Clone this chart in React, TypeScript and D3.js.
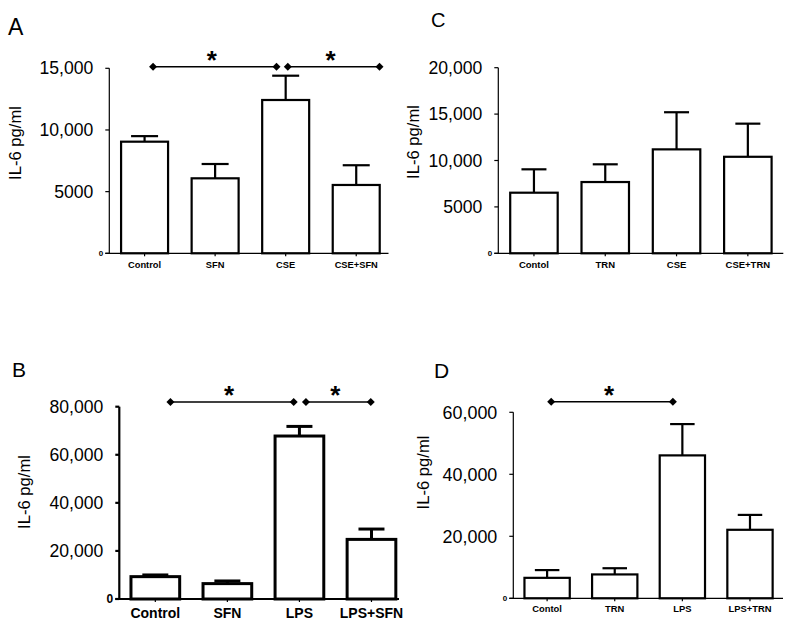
import React from 'react';
import * as d3 from 'd3';

// ---------- Data ----------
const catsA = ['Control', 'SFN', 'CSE', 'CSE+SFN'];
const meanA = [9050, 6080, 12430, 5540];
const errA = [9500, 7240, 14400, 7140];
const ticksA = [0, 5000, 10000, 15000];
const tickLabelsA = ['0', '5000', '10,000', '15,000'];

const catsB = ['Control', 'SFN', 'LPS', 'LPS+SFN'];
const meanB = [9300, 6400, 67800, 24800];
const errB = [10000, 7500, 71800, 29100];
const ticksB = [0, 20000, 40000, 60000, 80000];
const tickLabelsB = ['0', '20,000', '40,000', '60,000', '80,000'];

const catsC = ['Contol', 'TRN', 'CSE', 'CSE+TRN'];
const meanC = [6530, 7680, 11200, 10400];
const errC = [9050, 9590, 15200, 13970];
const ticksC = [0, 5000, 10000, 15000, 20000];
const tickLabelsC = ['0', '5000', '10,000', '15,000', '20,000'];

const catsD = ['Contol', 'TRN', 'LPS', 'LPS+TRN'];
const meanD = [6600, 7700, 46100, 22100];
const errD = [9100, 9700, 56200, 26900];
const ticksD = [0, 20000, 40000, 60000];
const tickLabelsD = ['0', '20,000', '40,000', '60,000'];

// significance brackets: category + offset in band steps
const sigA = [
  { from: 'Control', fromOff: 0.12, to: 'CSE', toOff: -0.13 },
  { from: 'CSE', fromOff: 0.03, to: 'CSE+SFN', toOff: 0.33 },
];
const sigB = [
  { from: 'Control', fromOff: 0.21, to: 'LPS', toOff: -0.08 },
  { from: 'LPS', fromOff: 0.09, to: 'LPS+SFN', toOff: -0.01 },
];
const sigC: any[] = [];
const sigD = [{ from: 'Contol', fromOff: 0.06, to: 'LPS', toOff: -0.14 }];

const FONT = 'Liberation Sans, Arial, Helvetica, sans-serif';

type Cfg = {
  letter: string;
  letterX: number;
  letterY: number;
  letterSize: number;
  cats: string[];
  mean: number[];
  err: number[];
  ticks: number[];
  tickLabels: string[];
  sig: any[];
  max: number;
  x0: number;
  x1: number;
  baseEnd: number;
  y0: number;
  y1: number;
  pad: number;
  barW: number;
  axisW: number;
  capW: number;
  tickFont: number;
  zeroFont: number;
  catFont: number;
  catY: number;
  ylabX: number;
  ylabY: number;
  sigY: number;
};

const cfgA: Cfg = {
  letter: 'A', letterX: 8, letterY: 35, letterSize: 23,
  cats: catsA, mean: meanA, err: errA, ticks: ticksA, tickLabels: tickLabelsA, sig: sigA,
  max: 15000, x0: 109.3, x1: 391.5, baseEnd: 388.5, y0: 253.3, y1: 68.3,
  pad: 0.334, barW: 2.2, axisW: 1.2, capW: 27,
  tickFont: 17.6, zeroFont: 8, catFont: 9.3, catY: 267.5,
  ylabX: 20.5, ylabY: 143, sigY: 66.7,
};
const cfgB: Cfg = {
  letter: 'B', letterX: 12, letterY: 377, letterSize: 21,
  cats: catsB, mean: meanB, err: errB, ticks: ticksB, tickLabels: tickLabelsB, sig: sigB,
  max: 80000, x0: 119.3, x1: 407.5, baseEnd: 399, y0: 599, y1: 406.7,
  pad: 0.324, barW: 3, axisW: 2.2, capW: 26,
  tickFont: 17.6, zeroFont: 12, catFont: 14, catY: 618.3,
  ylabX: 29.5, ylabY: 492, sigY: 402,
};
const cfgC: Cfg = {
  letter: 'C', letterX: 431, letterY: 26.7, letterSize: 20,
  cats: catsC, mean: meanC, err: errC, ticks: ticksC, tickLabels: tickLabelsC, sig: sigC,
  max: 20000, x0: 498.3, x1: 783.5, baseEnd: 783.3, y0: 253.3, y1: 67.7,
  pad: 0.334, barW: 2.2, axisW: 1.2, capW: 25,
  tickFont: 17.6, zeroFont: 8, catFont: 9.5, catY: 267.5,
  ylabX: 419, ylabY: 142, sigY: 0,
};
const cfgD: Cfg = {
  letter: 'D', letterX: 434, letterY: 378, letterSize: 21,
  cats: catsD, mean: meanD, err: errD, ticks: ticksD, tickLabels: tickLabelsD, sig: sigD,
  max: 60000, x0: 513.3, x1: 783.8, baseEnd: 783, y0: 598.3, y1: 412.3,
  pad: 0.33, barW: 2.2, axisW: 1.2, capW: 24.5,
  tickFont: 17.9, zeroFont: 8, catFont: 9.4, catY: 612.3,
  ylabX: 429, ylabY: 472.5, sigY: 401.7,
};

const diamond = (cx: number, cy: number, r: number) =>
  `M${cx},${cy - r}L${cx + r},${cy}L${cx},${cy + r}L${cx - r},${cy}Z`;

function Panel({ cfg }: { cfg: Cfg }) {
  const y = d3.scaleLinear().domain([0, cfg.max]).range([cfg.y0, cfg.y1]);
  const x = d3
    .scaleBand<string>()
    .domain(cfg.cats)
    .range([cfg.x0, cfg.x1])
    .paddingInner(cfg.pad)
    .paddingOuter(cfg.pad / 2);
  const bw = x.bandwidth();
  const step = x.step();
  const center = (c: string) => (x(c) as number) + bw / 2;

  return (
    <g>
      <text x={cfg.letterX} y={cfg.letterY} fontSize={cfg.letterSize} fontFamily={FONT}>
        {cfg.letter}
      </text>
      {/* y label */}
      <text
        transform={`translate(${cfg.ylabX},${cfg.ylabY}) rotate(-90)`}
        textAnchor="middle"
        fontSize={16.6}
        fontFamily={FONT}
      >
        IL-6 pg/ml
      </text>
      {/* bars */}
      {cfg.cats.map((c, i) => {
        const cx = center(c);
        return (
          <g key={c}>
            <line
              x1={cx}
              x2={cx}
              y1={y(cfg.mean[i])}
              y2={y(cfg.err[i])}
              stroke="#000"
              strokeWidth={cfg.barW}
            />
            <line
              x1={cx - cfg.capW / 2}
              x2={cx + cfg.capW / 2}
              y1={y(cfg.err[i])}
              y2={y(cfg.err[i])}
              stroke="#000"
              strokeWidth={cfg.barW}
            />
            <rect
              x={x(c)}
              y={y(cfg.mean[i])}
              width={bw}
              height={y(0) - y(cfg.mean[i])}
              fill="#fff"
              stroke="#000"
              strokeWidth={cfg.barW}
            />
            <line x1={cx} x2={cx} y1={y(0)} y2={y(0) + 3} stroke="#000" strokeWidth={1.2} />
            <text
              x={cx}
              y={cfg.catY}
              textAnchor="middle"
              fontSize={cfg.catFont}
              fontWeight="bold"
              fontFamily={FONT}
            >
              {c}
            </text>
          </g>
        );
      })}
      {/* axes */}
      <line x1={cfg.x0} x2={cfg.x0} y1={y(cfg.max)} y2={y(0)} stroke="#000" strokeWidth={cfg.axisW} />
      <line x1={cfg.x0 - 4} x2={cfg.baseEnd} y1={y(0)} y2={y(0)} stroke="#000" strokeWidth={cfg.axisW} />
      {cfg.ticks.map((t, i) => (
        <g key={t}>
          <line x1={cfg.x0 - 4} x2={cfg.x0} y1={y(t)} y2={y(t)} stroke="#000" strokeWidth={cfg.axisW} />
          {t === 0 ? (
            <text
              x={cfg.x0 - 6}
              y={y(t)}
              dy="0.35em"
              textAnchor="end"
              fontSize={cfg.zeroFont}
              fontWeight="bold"
              fontFamily={FONT}
            >
              {cfg.tickLabels[i]}
            </text>
          ) : (
            <text
              x={cfg.x0 - 16}
              y={y(t)}
              dy="0.35em"
              textAnchor="end"
              fontSize={cfg.tickFont}
              fontFamily={FONT}
            >
              {cfg.tickLabels[i]}
            </text>
          )}
        </g>
      ))}
      {/* significance */}
      {cfg.sig.map((s, i) => {
        const xa = center(s.from) + s.fromOff * step;
        const xb = center(s.to) + s.toOff * step;
        return (
          <g key={i}>
            <line x1={xa} x2={xb} y1={cfg.sigY} y2={cfg.sigY} stroke="#000" strokeWidth={1.6} />
            <path d={diamond(xa, cfg.sigY, 4)} fill="#000" />
            <path d={diamond(xb, cfg.sigY, 4)} fill="#000" />
            <text
              x={(xa + xb) / 2 - 3}
              y={cfg.sigY + 2}
              textAnchor="middle"
              fontSize={26}
              fontWeight="bold"
              fontFamily={FONT}
            >
              *
            </text>
          </g>
        );
      })}
    </g>
  );
}

export default function App() {
  return (
    <div style={{ position: 'absolute', left: 0, top: 0, width: 795, height: 627, background: '#fff' }}>
      <svg width={795} height={627} viewBox="0 0 795 627" style={{ display: 'block' }}>
        <rect width={795} height={627} fill="#fff" />
        <Panel cfg={cfgA} />
        <Panel cfg={cfgB} />
        <Panel cfg={cfgC} />
        <Panel cfg={cfgD} />
      </svg>
    </div>
  );
}
